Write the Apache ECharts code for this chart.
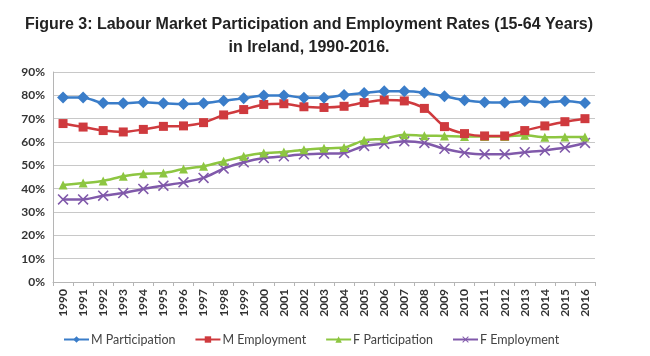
<!DOCTYPE html>
<html>
<head>
<meta charset="utf-8">
<script src="https://cdn.jsdelivr.net/npm/echarts@6/dist/echarts.min.js"></script>
<style>
html,body{margin:0;padding:0;background:#fff;}
#chart{width:650px;height:356px;}
</style>
</head>
<body>
<div id="chart"></div>
<script>
const years = ['1990','1991','1992','1993','1994','1995','1996','1997','1998','1999','2000','2001','2002','2003','2004','2005','2006','2007','2008','2009','2010','2011','2012','2013','2014','2015','2016'];
const mParticipation = [79.1,79.1,76.7,76.6,77.0,76.6,76.3,76.6,77.7,78.7,79.9,79.9,79.0,79.0,80.1,81.0,81.7,81.7,81.1,79.6,77.9,77.0,76.9,77.6,77.0,77.6,76.7];
const mEmployment = [67.9,66.4,64.9,64.3,65.4,66.7,66.9,68.3,71.6,73.9,76.1,76.4,75.1,74.8,75.3,76.9,78.0,77.6,74.4,66.6,63.6,62.6,62.6,64.9,66.9,68.7,70.0];
const fParticipation = [41.6,42.4,43.3,45.3,46.4,46.7,48.4,49.6,51.7,53.9,55.3,55.7,56.7,57.3,57.6,60.7,61.4,63.1,62.7,62.6,62.4,62.4,62.4,62.9,62.0,62.1,62.1];
const fEmployment = [35.4,35.4,37.0,38.1,39.9,41.3,42.7,44.6,48.6,51.3,53.1,53.9,54.7,55.0,55.3,58.3,59.3,60.3,59.6,57.1,55.4,54.7,54.7,55.6,56.4,57.6,59.6];
const seriesNames = ['M Participation','M Employment','F Participation','F Employment'];
const yTicks = {min:0, max:90, interval:10};

const xSymbol = 'path://M1,0 L5,4 L9,0 L10,1 L6,5 L10,9 L9,10 L5,6 L1,10 L0,9 L4,5 L0,1 Z';
const colors = ['#3A7DC9','#CF3A3E','#8DC641','#8059AA'];
const symbols = ['diamond','rect','triangle',xSymbol];
const symSizes = [12,9,9,11];
const dataSets = [mParticipation,mEmployment,fParticipation,fEmployment];

const chart = echarts.init(document.getElementById('chart'));
chart.setOption({
  animation:false,
  backgroundColor:'#fff',
  title:{
    text:'Figure 3: Labour Market Participation and Employment Rates (15-64 Years)\nin Ireland, 1990-2016.',
    left:304, top:8, textAlign:'center',
    textStyle:{fontFamily:'Liberation Sans, Arial, sans-serif', fontSize:16, fontWeight:'bold', color:'#222', lineHeight:23}
  },
  legend:{
    data:seriesNames,
    left:58, top:328,
    itemWidth:25, itemHeight:8, itemGap:19,
    textStyle:{fontFamily:'Lato, sans-serif', fontSize:12.5, color:'#444', padding:[0,0,0,-3]}
  },
  grid:{left:53, right:55, top:72, bottom:74},
  xAxis:{
    type:'category', data:years, boundaryGap:true,
    axisLine:{lineStyle:{color:'#b5b5b5', width:1}},
    axisTick:{show:true, length:4, lineStyle:{color:'#b5b5b5'}},
    axisLabel:{rotate:90, margin:7, color:'#333', fontFamily:'Lato, sans-serif', fontSize:12, fontWeight:'bold', interval:0}
  },
  yAxis:{
    type:'value', min:yTicks.min, max:yTicks.max, interval:yTicks.interval,
    axisLine:{show:true, lineStyle:{color:'#b5b5b5'}},
    axisTick:{show:false},
    splitLine:{lineStyle:{color:'#c8c8c8', width:1}},
    axisLabel:{formatter:'{value}%', color:'#333', fontFamily:'Lato, sans-serif', fontSize:12, fontWeight:'bold', margin:8}
  },
  series: dataSets.map((d,i)=>({
    name:seriesNames[i], type:'line', data:d,
    smooth:0.25,
    symbol:symbols[i], symbolSize:symSizes[i],
    lineStyle:{color:colors[i], width:2.5},
    itemStyle:{color:colors[i]},
    z: 10 - i
  }))
});
</script>
</body>
</html>
